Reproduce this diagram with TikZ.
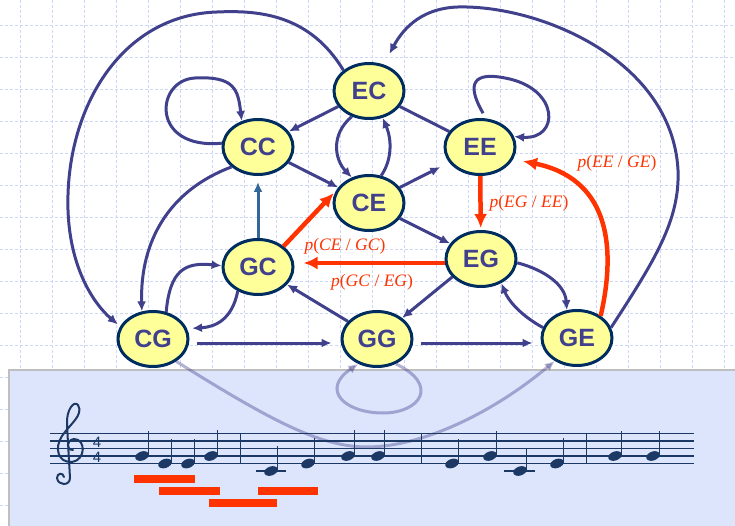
\documentclass[tikz,border=0pt]{standalone}
\usepackage{fontspec}
\setmainfont{Liberation Serif}
\setsansfont{Liberation Sans}
\usetikzlibrary{shapes.geometric,arrows.meta}

\definecolor{chordfill}{RGB}{255,255,153}
\definecolor{chordrim}{RGB}{0,45,95}
\definecolor{chordink}{RGB}{64,64,140}
\definecolor{probred}{RGB}{255,51,0}
\definecolor{gridblue}{RGB}{205,215,250}
\definecolor{staffpanel}{RGB}{221,229,253}
\definecolor{staffink}{RGB}{28,56,100}
\definecolor{linkblue}{RGB}{51,102,153}

\newcommand{\condp}[2]{\textit{p}(\textit{#1} / \textit{#2})}

\tikzset{
  chord/.style={ellipse, draw=chordrim, fill=chordfill, line width=3pt,
    minimum width=70pt, minimum height=55pt, inner sep=0pt,
    text=chordink, font=\sffamily\bfseries\fontsize{25}{25}\selectfont},
  link/.style={draw=chordink, line width=3pt, -{Latex[length=10pt,width=9pt]}},
  hot/.style={draw=probred, line width=4.5pt, -{Latex[length=14pt,width=13pt]}},
  ghost/.style={draw=chordink, line width=3pt, opacity=0.4, -{Latex[length=10pt,width=9pt]}},
  prob/.style={text=probred, font=\fontsize{17.5}{18}\selectfont},
  gridline/.style={gridblue, line width=0.9pt, dash pattern=on 3pt off 2pt},
}

\begin{document}
\begin{tikzpicture}[x=1pt,y=-1pt]
    \useasboundingbox (0,0) rectangle (735,526);
    % squared paper
    \foreach \x in {20,52,...,724} \draw[gridline] (\x,0) -- (\x,526);
    \foreach \y in {25,57,...,505} \draw[gridline] (0,\y) -- (735,\y);
    % panel for the score
    \draw[gray!50, line width=1.5pt, fill=staffpanel] (9,370) rectangle (737,528);

    % chord states
    \node[chord] (EC) at (369,91) {EC};
    \node[chord] (CC) at (258,147) {CC};
    \node[chord] (EE) at (480,147) {EE};
    \node[chord] (CE) at (369,203) {CE};
    \node[chord] (GC) at (258,267) {GC};
    \node[chord] (EG) at (481,259) {EG};
    \node[chord] (CG) at (153,339) {CG};
    \node[chord] (GG) at (377,339) {GG};
    \node[chord] (GE) at (577,338) {GE};

    % transitions
    \draw[link] (EC) -- (CC);
    \draw[link] (EC.236) .. controls (330,135) and (335,160) .. (CE.124);
    \draw[link] (CE.66) .. controls (392,160) and (392,140) .. (EC.-63);
    \draw[link, -] (EC) -- (EE);
    \draw[link] (CC) -- (CE);
    \draw[link, shorten >=10pt] (CE) -- (EE);
    \draw[link] (CE) -- (EG);
    \draw[link, draw=linkblue, shorten >=6pt] (GC) -- (CC);
    \draw[link] (CC.174) .. controls (150,150) and (155,80) .. (195,78)
        .. controls (235,76) and (238,90) .. (CC.122);
    \draw[link, shorten <=6pt] (EE.78) .. controls (465,82) and (475,72) .. (505,78)
        .. controls (560,88) and (560,140) .. (EE.17);
    \draw[link, shorten >=3pt] (EC.141) .. controls (310,15) and (260,10) .. (217,12)
        .. controls (120,15) and (65,110) .. (68,210)
        .. controls (70,270) and (95,305) .. (CG.159);
    \draw[link, shorten >=12pt] (GE.17) .. controls (655,260) and (680,220) .. (678,170)
        .. controls (672,60) and (540,5) .. (458,7)
        .. controls (425,8) and (405,25) .. (EC.61);
    \draw[link] (CC.217) .. controls (170,190) and (140,240) .. (CG.112);
    \draw[link] (CG.64) .. controls (170,270) and (185,262) .. (GC.178);
    \draw[link, shorten >=5pt] (GC.230) .. controls (232,320) and (215,327) .. (CG.17);
    \draw[link, shorten <=7pt, shorten >=9pt] ([yshift=-4pt]CG.east) -- ([yshift=-4pt]GG.west);
    \draw[link, shorten <=7pt, shorten >=8pt] ([yshift=-4pt]GG.east) -- ([yshift=-5pt]GE.west);
    \draw[link] (GG) -- (GC);
    \draw[link] (EG.212) -- (GG.40);
    \draw[link] (EG.-6) .. controls (545,270) and (565,285) .. (GE.110);
    \draw[link] (GE.163) .. controls (520,315) and (508,300) .. (EG.-50);

    % the probabilities that are read off
    \draw[hot, shorten >=3pt] (GC.39) -- (CE.160);
    \draw[hot, shorten >=9pt] ([yshift=-4pt]EG.west) -- ([yshift=4pt]GC.east);
    \draw[hot, shorten >=2pt] (EE) -- (EG);
    \draw[hot, shorten >=10pt] (GE.43) .. controls (618,240) and (605,178) .. (EE.-20);
    \node[prob] (pCEGC) at (345,246) {\condp{CE}{GC}};
    \node[prob] (pGCEG) at (372,282) {\condp{GC}{EG}};
    \node[prob] (pEGEE) at (529,203) {\condp{EG}{EE}};
    \node[prob] (pEEGE) at (617,163) {\condp{EE}{GE}};

    % faint transitions running over the score
    \draw[ghost] (CG.-44) .. controls (270,420) and (320,447) .. (367,447)
        .. controls (420,447) and (490,415) .. (GE.226);
    \draw[ghost] (GG.-53) .. controls (440,385) and (420,413) .. (383,413)
        .. controls (345,413) and (320,390) .. (GG.233);

    % staff
    \foreach \y in {433.5,441,448.5,456,463.5} \draw[staffink, line width=1.2pt] (50,\y) -- (694,\y);
    \foreach \x in {240.7,421.7,586.7} \draw[staffink, line width=1.4pt] (\x,433.5) -- (\x,463.5);
    \draw[staffink, line width=2pt, line cap=round]
        (73,450) .. controls (66,450) and (66,440) .. (74,439)
        .. controls (86,439) and (86,460) .. (72,462)
        .. controls (58,463) and (54,448) .. (62,436)
        .. controls (70,424) and (84,415) .. (78,405)
        .. controls (74,400) and (66,410) .. (67,425)
        -- (70,478)
        .. controls (70,486) and (58,486) .. (57,478)
        .. controls (57,473) and (63,472) .. (64,477);
    \node[font=\sffamily\fontsize{15}{15}\selectfont, text=staffink] (tsTop) at (97,442) {4};
    \node[font=\sffamily\fontsize{15}{15}\selectfont, text=staffink] (tsBot) at (97,457) {4};
    \draw[staffink, line width=1.2pt] (256,471) -- (286,471);
    \draw[staffink, line width=1.2pt] (504,471) -- (535,471);
    \foreach \x/\y/\t in {142/456/431, 165/463.5/439, 188/463.5/439, 211/456/430,
                          271/471/446, 308/463.5/438, 348/456/430, 378/456/430,
                          452/463.5/439, 490/456/431, 520/471/448, 557/463.5/438,
                          615/456/431, 653/456/431} {
        \fill[staffink, rotate around={20:(\x,\y)}] (\x,\y) ellipse (7 and 4.5);
        \draw[staffink, line width=1.4pt] (\x+6.3,\y-1) -- (\x+6.3,\t);
    }
    % spans of the chords under the notes
    \fill[probred] (134,475) rectangle (195,483);
    \fill[probred] (159,487) rectangle (220,495);
    \fill[probred] (209,499) rectangle (277,507);
    \fill[probred] (258,487) rectangle (318,495);
\end{tikzpicture}
\end{document}
